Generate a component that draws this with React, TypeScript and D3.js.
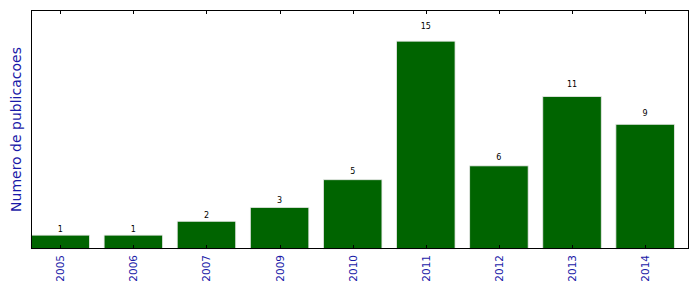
import React from "react";
import * as d3 from "d3";

const years = ["2005", "2006", "2007", "2009", "2010", "2011", "2012", "2013", "2014"];
const counts = [1, 1, 2, 3, 5, 15, 6, 11, 9];

const W = 699, H = 292;
const M = { left: 31, right: 10, top: 10, bottom: 43 };

export default function App() {
  const iw = W - M.left - M.right;
  const ih = H - M.top - M.bottom;
  const x = d3.scaleLinear().domain([0, years.length]).range([M.left, M.left + iw]);
  const y = d3.scaleLinear().domain([0, 15 * 1.15]).range([M.top + ih, M.top]);
  const bw = 0.8;
  const font = "'DejaVu Sans', sans-serif";
  return (
    <div style={{ position: "absolute", left: 0, top: 0 }}>
      <svg width={W} height={H} style={{ display: "block" }}>
        <rect x={0} y={0} width={W} height={H} fill="#fff" />
        {counts.map((c, i) => (
          <g key={i}>
            <rect
              x={x(i)}
              y={y(c)}
              width={x(i + bw) - x(i)}
              height={y(0) - y(c)}
              fill="#006400"
              stroke="#e8e8e8"
              strokeWidth={0.8}
            />
            <text
              x={x(i + bw / 2)}
              y={y(c * 1.05) - 2}
              textAnchor="middle"
              fontFamily={font}
              fontSize={8}
              fill="#000"
            >
              {c}
            </text>
          </g>
        ))}
        {years.map((yr, i) => {
          const cx = Math.round(x(i + bw / 2)) + 0.5;
          return (
            <g key={yr}>
              <line x1={cx} x2={cx} y1={M.top + ih} y2={M.top + ih - 4} stroke="#000" strokeWidth={1} />
              <line x1={cx} x2={cx} y1={M.top} y2={M.top + 4} stroke="#000" strokeWidth={1} />
              <text
                transform={`translate(${cx + 3.5},${M.top + ih + 6}) rotate(-90)`}
                textAnchor="end"
                fontFamily={font}
                fontSize={10.5}
                fill="#1a1aa8"
              >
                {yr}
              </text>
            </g>
          );
        })}
        <rect x={M.left + 0.5} y={M.top + 0.5} width={iw - 1} height={ih - 1} fill="none" stroke="#000" strokeWidth={1} />
        <text
          transform={`translate(21,${M.top + ih / 2}) rotate(-90)`}
          textAnchor="middle"
          fontFamily={font}
          fontSize={14}
          fill="#1a1aa8"
        >
          Numero de publicacoes
        </text>
      </svg>
    </div>
  );
}
